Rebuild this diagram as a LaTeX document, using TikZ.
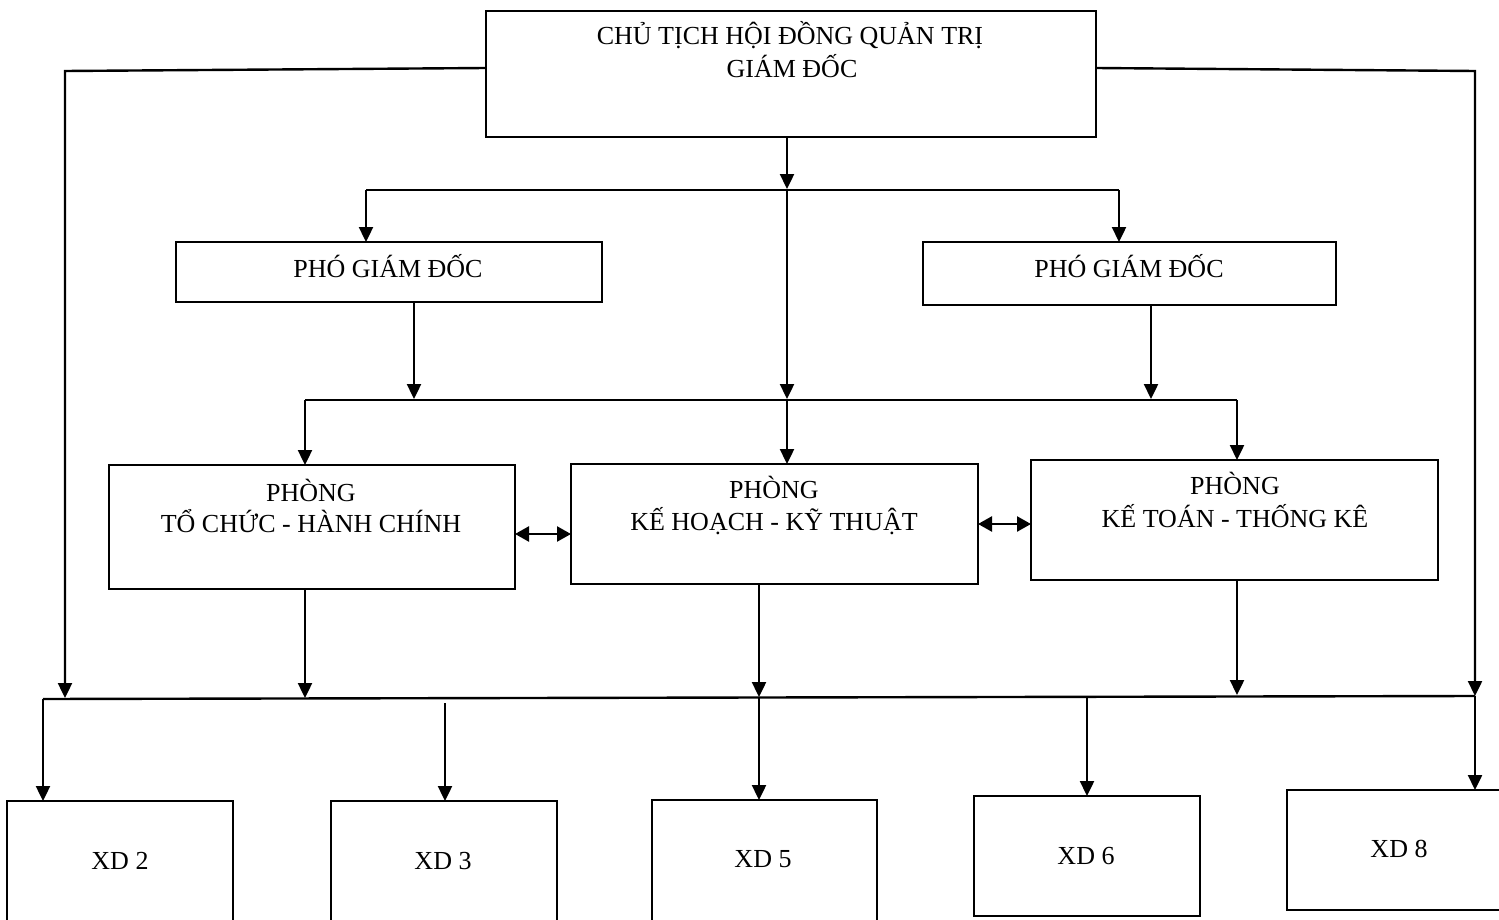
\documentclass[tikz,border=0pt]{standalone}
\usepackage{fontspec}
\setmainfont{Liberation Serif}
\usetikzlibrary{arrows.meta}
\begin{document}
\begin{tikzpicture}[x=0.5pt,y=-0.5pt,
  box/.style={draw, line width=1.1pt, inner sep=0pt, outer sep=0pt},
  lbl/.style={anchor=base, inner sep=0pt, font=\fontsize{13}{16}\selectfont},
  conn/.style={line width=1.2pt},
  arr/.style={conn, -{Triangle[length=7.5pt,width=7pt]}},
  darr/.style={conn, {Triangle[length=7pt,width=7.5pt]}-{Triangle[length=7pt,width=7.5pt]}}]
\clip (0,0) rectangle (1499,920);
% boxes
\node[box, minimum width=305pt, minimum height=63pt] (top) at (791,74) {};
\node[box, minimum width=213pt, minimum height=30pt] (pgd1) at (389,272) {};
\node[box, minimum width=206.5pt, minimum height=31.5pt] (pgd2) at (1129.5,273.5) {};
\node[box, minimum width=203pt, minimum height=62pt] (tchc) at (312,527) {};
\node[box, minimum width=203.5pt, minimum height=60pt] (khkt) at (774.5,524) {};
\node[box, minimum width=203.5pt, minimum height=60pt] (kttk) at (1234.5,520) {};
\node[box, minimum width=113pt, minimum height=64.5pt] (xd2) at (120,865.5) {};
\node[box, minimum width=113pt, minimum height=64.5pt] (xd3) at (444,865.5) {};
\node[box, minimum width=112.5pt, minimum height=65pt] (xd5) at (764.5,865) {};
\node[box, minimum width=113pt, minimum height=60pt] (xd6) at (1087,856) {};
\node[box, minimum width=111.5pt, minimum height=60pt] (xd8) at (1398.5,850) {};
% texts
\node[lbl] (t1) at (790,45) {CHỦ TỊCH HỘI ĐỒNG QUẢN TRỊ};
\node[lbl] (t2) at (792,78) {GIÁM ĐỐC};
\node[lbl] (t3) at (388,277) {PHÓ GIÁM ĐỐC};
\node[lbl] (t4) at (1129,277) {PHÓ GIÁM ĐỐC};
\node[lbl] (t5) at (311,501) {PHÒNG};
\node[lbl] (t6) at (311,532) {TỔ CHỨC - HÀNH CHÍNH};
\node[lbl] (t7) at (774,498) {PHÒNG};
\node[lbl] (t8) at (774,530) {KẾ HOẠCH - KỸ THUẬT};
\node[lbl] (t9) at (1235,494) {PHÒNG};
\node[lbl] (t10) at (1235,527) {KẾ TOÁN - THỐNG KÊ};
\node[lbl] (t11) at (120,869) {XD 2};
\node[lbl] (t12) at (443,869) {XD 3};
\node[lbl] (t13) at (763,867) {XD 5};
\node[lbl] (t14) at (1086,864) {XD 6};
\node[lbl] (t15) at (1399,857) {XD 8};
% junction coordinates
\coordinate (jL) at (65,71);
\coordinate (aL) at (65,698);
\coordinate (jR) at (1475,71);
\coordinate (b3L) at (43,699);
\coordinate (b3R) at (1475,696);
\coordinate (b1C) at (787,189);
\coordinate (b1L) at (366,190);
\coordinate (b1R) at (1119,190);
\coordinate (b2C) at (787,399);
\coordinate (b2L) at (305,400);
\coordinate (b2R) at (1237,400);
\coordinate (p1) at (414,399);
\coordinate (p2) at (1151,399);
\coordinate (d1) at (305,698);
\coordinate (d2) at (759,697);
\coordinate (d3) at (1237,695);
\coordinate (u3) at (445,703);
\coordinate (u5) at (759,698);
\coordinate (u6) at (1087,697);
% connectors
\draw[arr] ([yshift=3pt]top.west) -- (jL) -- (aL);
\draw[arr] ([yshift=3pt]top.east) -- (jR) -- (b3R);
\draw[arr] (b3R) -- (b3R |- xd8.north);
\draw[arr] (top.south -| b1C) -- (b1C);
\draw[conn] (b1L) -- (b1R);
\draw[arr] (b1L) -- (b1L |- pgd1.north);
\draw[arr] (b1R) -- (b1R |- pgd2.north);
\draw[arr] (b1C) -- (b2C);
\draw[arr] (pgd1.south -| p1) -- (p1);
\draw[arr] (pgd2.south -| p2) -- (p2);
\draw[conn] (b2L) -- (b2R);
\draw[arr] (b2L) -- (b2L |- tchc.north);
\draw[arr] (b2C) -- (b2C |- khkt.north);
\draw[arr] (b2R) -- (b2R |- kttk.north);
\draw[darr] ([yshift=-3.5pt]tchc.east) -- ([yshift=-3.5pt]tchc.east -| khkt.west);
\draw[darr] (khkt.east) -- (khkt.east -| kttk.west);
\draw[arr] (tchc.south -| d1) -- (d1);
\draw[arr] (khkt.south -| d2) -- (d2);
\draw[arr] (kttk.south -| d3) -- (d3);
\draw[conn] (b3L) -- (b3R);
\draw[arr] (b3L) -- (b3L |- xd2.north);
\draw[arr] (u3) -- (u3 |- xd3.north);
\draw[arr] (u5) -- (u5 |- xd5.north);
\draw[arr] (u6) -- (u6 |- xd6.north);
\end{tikzpicture}
\end{document}
